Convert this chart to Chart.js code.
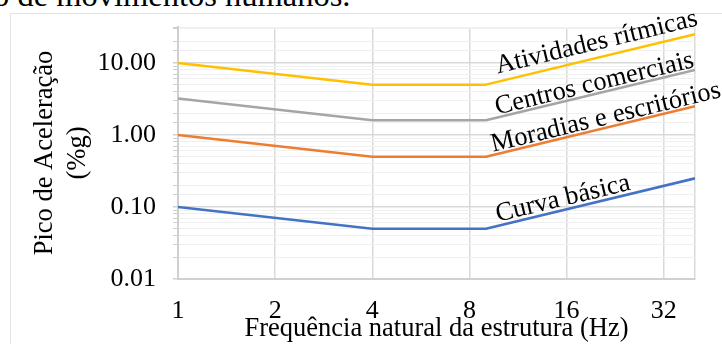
<!DOCTYPE html>
<html>
<head>
<meta charset="utf-8">
<script src="https://cdn.jsdelivr.net/npm/chart.js@4.4.1/dist/chart.umd.min.js"></script>
<style>
  html, body { margin: 0; padding: 0; background: #fff; overflow: hidden; }
  #wrap { position: relative; width: 722px; height: 344px; }
  #topText {
    position: absolute; left: -7px; top: -23px;
    font: 32.5px "Liberation Serif", "Times New Roman", serif; color: #000;
    white-space: nowrap;
  }
  #frame {
    position: absolute; left: 10px; top: 13px; width: 740px; height: 360px;
    border: 1px solid #e3e3e3; box-sizing: border-box;
  }
  #chart { position: absolute; left: 0; top: 0; }
</style>
</head>
<body>
<div id="wrap">
  <div id="topText">o de movimentos humanos.</div>
  <div id="frame"></div>
  <canvas id="chart" width="722" height="344"></canvas>
</div>
<script>
// frequencias (Hz) dos pontos de cada curva
const freq = [1, 4, 9, 40];

// pico de aceleracao (%g)
const curvaBasica = [0.1, 0.05, 0.05, 0.25];
const moradias = [1, 0.5, 0.5, 2.5];
const comerciais = [3.2, 1.6, 1.6, 8];
const ritmicas = [10, 5, 5, 25];

const seriesNames = ['Curva básica', 'Moradias e escritórios', 'Centros comerciais', 'Atividades rítmicas'];

const xTicks = [1, 2, 4, 8, 16, 32];
const xMax = 40;
const yMajor = [0.01, 0.1, 1, 10];
const yTickLabels = ['0.01', '0.10', '1.00', '10.00'];
const yMin = 0.01, yMax = 31.6;

const serif = "'Liberation Serif', 'Times New Roman', serif";
const colors = ['#4472C4', '#ED7D31', '#A5A5A5', '#FFC000'];

// where each name sits on its curve (along / above the last segment)
const labelPos = [
  { along: 13, up: 4 },
  { along: 8, up: 3 },
  { along: 12, up: 3 },
  { along: 14, up: 8 }
];

const toPoints = ys => freq.map((f, i) => ({ x: f, y: ys[i] }));

const lineLabels = {
  id: 'lineLabels',
  afterDatasetsDraw(chart) {
    const ctx = chart.ctx;
    ctx.save();
    ctx.font = '26.5px ' + serif;
    ctx.fillStyle = '#000';
    ctx.textBaseline = 'alphabetic';
    ctx.textAlign = 'left';
    chart.data.datasets.forEach((ds, i) => {
      const pts = chart.getDatasetMeta(i).data;
      const p0 = pts[2], p1 = pts[3];
      const a = Math.atan2(p1.y - p0.y, p1.x - p0.x);
      const lp = labelPos[i];
      const x = p0.x + lp.along * Math.cos(a) + lp.up * Math.sin(a);
      const y = p0.y + lp.along * Math.sin(a) - lp.up * Math.cos(a);
      ctx.save();
      ctx.translate(x, y);
      ctx.rotate(a);
      ctx.fillText(ds.label, 0, 0);
      ctx.restore();
    });
    ctx.restore();
  }
};

new Chart(document.getElementById('chart'), {
  type: 'line',
  data: {
    datasets: [curvaBasica, moradias, comerciais, ritmicas].map((ys, i) => ({
      label: seriesNames[i],
      data: toPoints(ys),
      borderColor: colors[i],
      backgroundColor: colors[i],
      borderWidth: 2.5,
      borderJoinStyle: 'round',
      pointRadius: 0,
      tension: 0,
      fill: false
    }))
  },
  options: {
    responsive: false,
    animation: false,
    layout: { padding: { left: 0, top: 27, right: 27, bottom: 0 } },
    plugins: { legend: { display: false }, tooltip: { enabled: false } },
    scales: {
      x: {
        type: 'logarithmic',
        min: 1, max: xMax,
        afterBuildTicks: s => { s.ticks = xTicks.concat([xMax]).map(v => ({ value: v })); },
        afterFit: s => { s.height = 65; s.paddingRight = 0; s.paddingLeft = 0; },
        grid: { color: '#d9d9d9', lineWidth: 1.5, drawTicks: false },
        border: { color: '#d0d0d0', width: 2 },
        ticks: {
          autoSkip: false, maxRotation: 0, padding: 17,
          color: '#000', font: { family: serif, size: 26 },
          callback: v => xTicks.includes(v) ? String(v) : ''
        },
        title: {
          display: true, text: 'Frequência natural da estrutura (Hz)',
          color: '#000', font: { family: serif, size: 26.5, lineHeight: 1.15 },
          padding: 0
        }
      },
      y: {
        type: 'logarithmic',
        min: yMin, max: yMax,
        afterFit: s => { s.width = 178; s.paddingTop = 0; s.paddingBottom = 0; },
        grid: {
          color: c => yMajor.includes(c.tick.value) ? '#d9d9d9' : '#f0f0f0',
          lineWidth: c => yMajor.includes(c.tick.value) ? 1.5 : 1,
          tickColor: '#cfcfcf', tickLength: 5
        },
        border: { color: '#cfcfcf', width: 2 },
        ticks: {
          autoSkip: false, padding: 17,
          color: '#000', font: { family: serif, size: 26 },
          callback: v => {
            const k = yMajor.indexOf(v);
            return k >= 0 ? yTickLabels[k] : '';
          }
        },
        title: {
          display: true, text: ['Pico de Aceleração', '(%g)'],
          color: '#000', font: { family: serif, size: 26.5, lineHeight: 1.25 },
          padding: { top: 28 }
        }
      }
    }
  },
  plugins: [lineLabels]
});
</script>
</body>
</html>
